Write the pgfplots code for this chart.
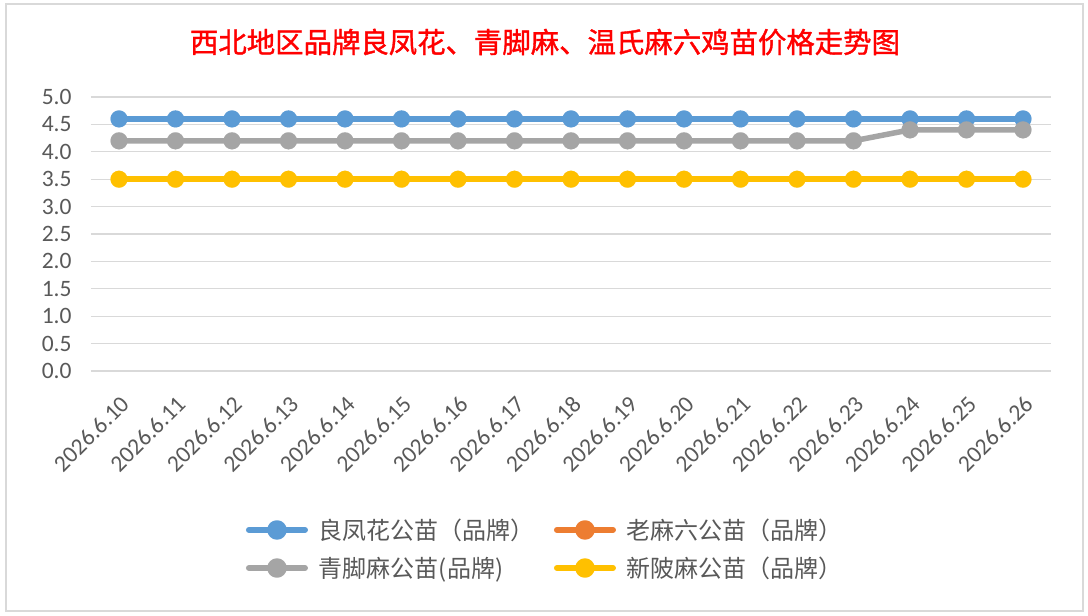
\documentclass[border=0pt]{standalone}
\usepackage{fontspec}
\setmainfont{Carlito}
\newfontfamily\cjk{Noto Sans CJK SC}
\newfontfamily\cjkt[FakeBold=1.3]{Noto Sans CJK SC}
\usepackage{pgfplots}
\pgfplotsset{compat=1.18}
\definecolor{cBlue}{HTML}{5B9BD5}
\definecolor{cOrange}{HTML}{ED7D31}
\definecolor{cGray}{HTML}{A5A5A5}
\definecolor{cYellow}{HTML}{FFC000}
\definecolor{cGrid}{HTML}{D9D9D9}
\definecolor{cBorder}{HTML}{D9D9D9}
\definecolor{cText}{HTML}{595959}
\begin{document}
\begin{tikzpicture}[x=1pt,y=1pt]
\path[use as bounding box] (0,0) rectangle (1088,616);
\fill[white] (0,0) rectangle (1088,616);
\draw[color=cBorder, line width=2pt] (6,5) rectangle (1083,612);
\node[text=red, font=\cjkt\fontsize{28.4}{32}\selectfont, inner sep=0pt] at (545,574) {西北地区品牌良凤花、青脚麻、温氏麻六鸡苗价格走势图};
\begin{axis}[
  at={(90.75pt,245pt)}, anchor=south west,
  scale only axis, width=960.5pt, height=274pt,
  xmin=-0.5, xmax=16.5, ymin=0, ymax=5,
  xtick={0,1,2,3,4,5,6,7,8,9,10,11,12,13,14,15,16},
  xticklabels={2026.6.10,2026.6.11,2026.6.12,2026.6.13,2026.6.14,2026.6.15,2026.6.16,2026.6.17,2026.6.18,2026.6.19,2026.6.20,2026.6.21,2026.6.22,2026.6.23,2026.6.24,2026.6.25,2026.6.26},
  ytick={0,0.5,1,1.5,2,2.5,3,3.5,4,4.5,5},
  /pgf/number format/assume math mode=true,
  yticklabel style={/pgf/number format/fixed, /pgf/number format/fixed zerofill, /pgf/number format/precision=1},
  axis line style={draw=none}, major tick length=0pt,
  ymajorgrids, grid style={color=cGrid, line width=1.3pt},
  tick label style={font=\fontsize{23.5}{27}\selectfont, text=cText},
  yticklabel style={anchor=east, inner sep=0pt, xshift=-19pt},
  xticklabel style={inner sep=0pt, xshift=6pt, yshift=-29pt, rotate=45, anchor=east},
  clip=false,
  legend columns=2,
  legend cell align=left,
  legend style={at={(axis description cs:0.1616,-0.6496)}, anchor=west,
    draw=none, fill=none, inner sep=0pt, outer sep=0pt, row sep=16pt,
    nodes={inner sep=0pt, text=cText, font=\cjk\fontsize{24}{28}\selectfont},
    /tikz/every odd column/.style={column sep=11pt},
    /tikz/every even column/.style={column sep=19pt}},
  legend image code/.code={
    \draw[#1, line width=6pt, line cap=round] (3pt,0pt) -- (59pt,0pt);
    \fill[#1] (31pt,0pt) circle (7pt);},
  every axis plot/.append style={line width=5.5pt, line join=round, mark=*, mark size=8.5pt, mark options={line width=0.1pt}},
]
\addplot[color=cBlue] coordinates {(0,4.6) (1,4.6) (2,4.6) (3,4.6) (4,4.6) (5,4.6) (6,4.6) (7,4.6) (8,4.6) (9,4.6) (10,4.6) (11,4.6) (12,4.6) (13,4.6) (14,4.6) (15,4.6) (16,4.6)};
\addlegendentry{良凤花公苗（品牌）}
\addlegendimage{color=cOrange}
\addlegendentry{老麻六公苗（品牌）}
\addplot[color=cGray] coordinates {(0,4.2) (1,4.2) (2,4.2) (3,4.2) (4,4.2) (5,4.2) (6,4.2) (7,4.2) (8,4.2) (9,4.2) (10,4.2) (11,4.2) (12,4.2) (13,4.2) (14,4.4) (15,4.4) (16,4.4)};
\addlegendentry{青脚麻公苗(品牌)}
\addplot[color=cYellow] coordinates {(0,3.5) (1,3.5) (2,3.5) (3,3.5) (4,3.5) (5,3.5) (6,3.5) (7,3.5) (8,3.5) (9,3.5) (10,3.5) (11,3.5) (12,3.5) (13,3.5) (14,3.5) (15,3.5) (16,3.5)};
\addlegendentry{新陂麻公苗（品牌）}
\end{axis}
\end{tikzpicture}
\end{document}
